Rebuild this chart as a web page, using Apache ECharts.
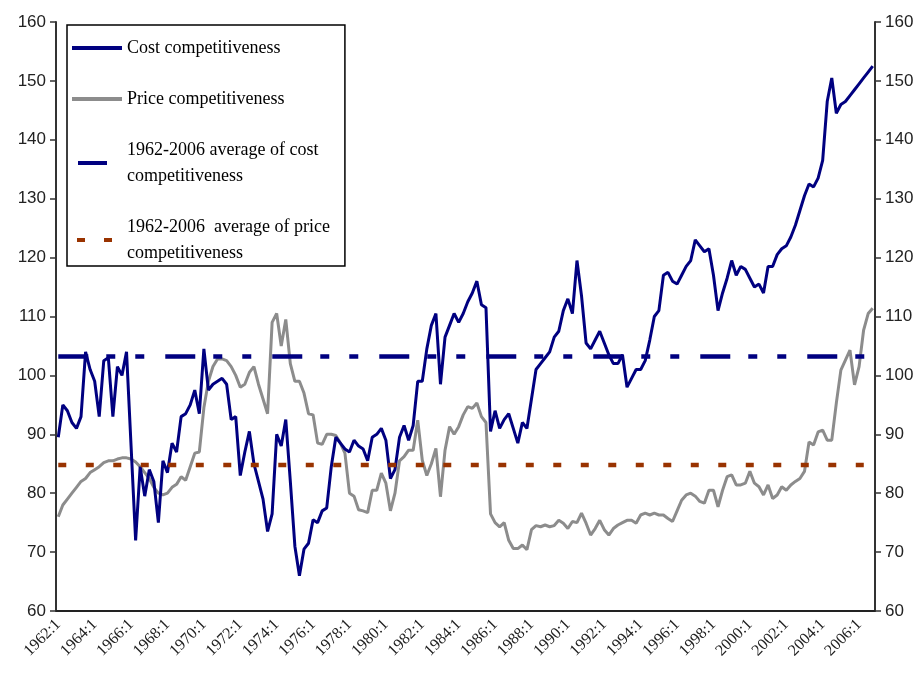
<!DOCTYPE html>
<html>
<head>
<meta charset="utf-8">
<script src="https://cdn.jsdelivr.net/npm/echarts@6/dist/echarts.min.js"></script>
<style>
  html, body { margin: 0; padding: 0; background: #fff; }
  #chart { width: 924px; height: 695px; }
</style>
</head>
<body>
<div id="chart"></div>
<script>
// quarterly categories 1962:1 .. 2006:4
const quarters = []
for (let y = 1962; y <= 2006; y++) {
  for (let q = 1; q <= 4; q++) quarters.push(y + ':' + q)
}

const costComp = [
  89.5, 95, 94, 92, 91, 93, 104, 101, 99, 93,
  102.5, 103, 93, 101.5, 100, 104, 88, 72, 84.5, 79.5,
  84, 82, 75, 85.5, 83.5, 88.5, 87, 93, 93.5, 95,
  97.5, 93.5, 104.5, 97.5, 98.5, 99, 99.5, 98.5, 92.5, 93,
  83, 87, 90.5, 85, 82, 79, 73.5, 76.5, 90, 88,
  92.5, 82, 71, 66, 70.5, 71.5, 75.5, 75, 77, 77.5,
  84.5, 89.5, 88.5, 87.5, 87, 89, 88, 87.5, 85.5, 89.5,
  90, 91, 89, 82.5, 84, 89.5, 91.5, 89, 91.5, 99,
  99, 104.5, 108.5, 110.5, 98.5, 106.5, 108.5, 110.5, 109, 110.5,
  112.5, 114, 116, 112, 111.5, 90.5, 94, 91, 92.5, 93.5,
  91, 88.5, 92, 91, 96, 101, 102, 103, 104, 106.5,
  107.5, 111, 113, 110.5, 119.5, 113.5, 105.5, 104.5, 106, 107.5,
  105.5, 103.5, 102, 102, 103.5, 98, 99.5, 101, 101, 102.5,
  106, 110, 111, 117, 117.5, 116, 115.5, 117, 118.5, 119.5,
  123, 122, 121, 121.5, 117, 111, 114, 116.5, 119.5, 117,
  118.5, 118, 116.5, 115, 115.5, 114, 118.5, 118.5, 120.5, 121.5,
  122, 123.5, 125.5, 128, 130.5, 132.5, 132, 133.5, 136.5, 146.5,
  150.5, 144.5, 146, 146.5, 147.5, 148.5, 149.5, 150.5, 151.5, 152.5
]

const priceComp = [
  76, 78, 79, 80, 81, 82, 82.5, 83.5, 84, 84.5,
  85.2, 85.5, 85.5, 85.8, 86, 86, 85.8, 85.3, 84.5, 83.5,
  82.5, 81, 80, 79.7, 80, 81, 81.5, 82.8, 82.2, 84.5,
  86.8, 87, 94.5, 99, 101.5, 102.8, 102.8, 102.5, 101.5, 100,
  98, 98.5, 100.5, 101.5, 98.5, 96, 93.5, 109, 110.5, 105,
  109.5, 102, 99, 99, 97, 93.5, 93.3, 88.5, 88.3, 90,
  90, 89.8, 88.5, 86.8, 80, 79.5, 77.2, 77, 76.7, 80.5,
  80.5, 83.4, 81.7, 77, 80, 85.5, 86.2, 87.3, 87.3, 92.4,
  85.6, 83, 85, 87.6, 79.4, 87.3, 91.3, 90, 91.3, 93.3,
  94.7, 94.4, 95.3, 93, 92, 76.5, 75, 74.3, 75, 72,
  70.6, 70.6, 71.2, 70.4, 73.8, 74.5, 74.3, 74.6, 74.3, 74.5,
  75.4, 74.9, 74, 75.2, 75, 76.6, 74.9, 72.9, 74, 75.4,
  73.8, 72.9, 74, 74.6, 75, 75.4, 75.4, 74.9, 76.3, 76.6,
  76.3, 76.6, 76.3, 76.3, 75.7, 75.2, 77, 78.8, 79.7, 80,
  79.5, 78.6, 78.3, 80.5, 80.5, 77.7, 80.5, 82.8, 83.1, 81.4,
  81.4, 81.7, 83.7, 81.7, 81.1, 79.7, 81.4, 79.1, 79.7, 81.1,
  80.5, 81.4, 82, 82.5, 83.7, 88.7, 88.2, 90.4, 90.7, 89,
  89, 95.3, 100.9, 102.6, 104.3, 98.4, 101.5, 107.7, 110.5, 111.4
]

// 1962-2006 averages
const avgCost = 103.2
const avgPrice = 84.8

const yTicks = [60, 70, 80, 90, 100, 110, 120, 130, 140, 150, 160]

const names = [
  'Cost competitiveness',
  'Price competitiveness',
  '1962-2006 average of cost\ncompetitiveness',
  '1962-2006  average of price\ncompetitiveness'
]

const serif = 'Liberation Serif, Times New Roman, serif'

const chart = echarts.init(document.getElementById('chart'))

const yAxisBase = {
  type: 'value',
  min: yTicks[0],
  max: yTicks[yTicks.length - 1],
  interval: 10,
  splitLine: { show: false },
  axisLine: { show: true, lineStyle: { color: '#333', width: 2 } },
  axisTick: { show: true, length: 6, lineStyle: { color: '#333', width: 1.5 } },
  axisLabel: {
    color: '#222',
    fontFamily: 'Liberation Sans, Arial, sans-serif',
    fontSize: 17,
    margin: 10
  }
}

const option = {
  backgroundColor: '#fff',
  animation: false,
  grid: { left: 56, right: 49, top: 22, bottom: 84, containLabel: false, outerBoundsMode: 'none' },
  legend: {
    orient: 'vertical',
    left: 67,
    top: 25,
    padding: [10, 15, 0, 5],
    borderColor: '#000',
    borderWidth: 1.5,
    itemWidth: 50,
    itemHeight: 4,
    itemGap: 25,
    selectedMode: false,
    textStyle: {
      color: '#000',
      fontFamily: serif,
      fontSize: 18,
      lineHeight: 26
    },
    data: [
      { name: names[0], icon: 'rect' },
      { name: names[1], icon: 'rect' },
      { name: names[2], icon: 'path://M0,0h0.1v0.1h-0.1z M6,0h29v4h-29z M49.9,3.9h0.1v0.1h-0.1z' },
      { name: names[3], icon: 'path://M0,0h0.1v0.1h-0.1z M5,0h8v4h-8z M32,0h8v4h-8z M49.9,3.9h0.1v0.1h-0.1z' }
    ]
  },
  xAxis: {
    type: 'category',
    data: quarters,
    boundaryGap: true,
    axisLine: { lineStyle: { color: '#222', width: 2 } },
    axisTick: { interval: 7, length: 6, lineStyle: { color: '#222', width: 1.5 } },
    axisLabel: {
      interval: 7,
      rotate: 45,
      color: '#222',
      fontFamily: serif,
      fontSize: 16,
      margin: 11
    },
    splitLine: { show: false }
  },
  yAxis: [
    Object.assign({}, yAxisBase, { position: 'left' }),
    Object.assign({}, yAxisBase, { position: 'right' })
  ],
  series: [
    {
      name: names[0], type: 'line', data: costComp, symbol: 'none',
      color: '#000080',
      lineStyle: { color: '#000080', width: 3 }, z: 4
    },
    {
      name: names[1], type: 'line', data: priceComp, symbol: 'none',
      color: '#8c8c8c',
      lineStyle: { color: '#8c8c8c', width: 3 }, z: 3
    },
    {
      name: names[2], type: 'line', data: quarters.map(() => avgCost), symbol: 'none',
      color: '#000080',
      lineStyle: { color: '#000080', width: 4.5, type: [30, 18, 9, 20, 9, 21], cap: 'butt' }, z: 5
    },
    {
      name: names[3], type: 'line', data: quarters.map(() => avgPrice), symbol: 'none',
      color: '#993300',
      lineStyle: { color: '#993300', width: 4.5, type: [8, 19.5], cap: 'butt' }, z: 5
    }
  ]
}

chart.setOption(option)
</script>
</body>
</html>
